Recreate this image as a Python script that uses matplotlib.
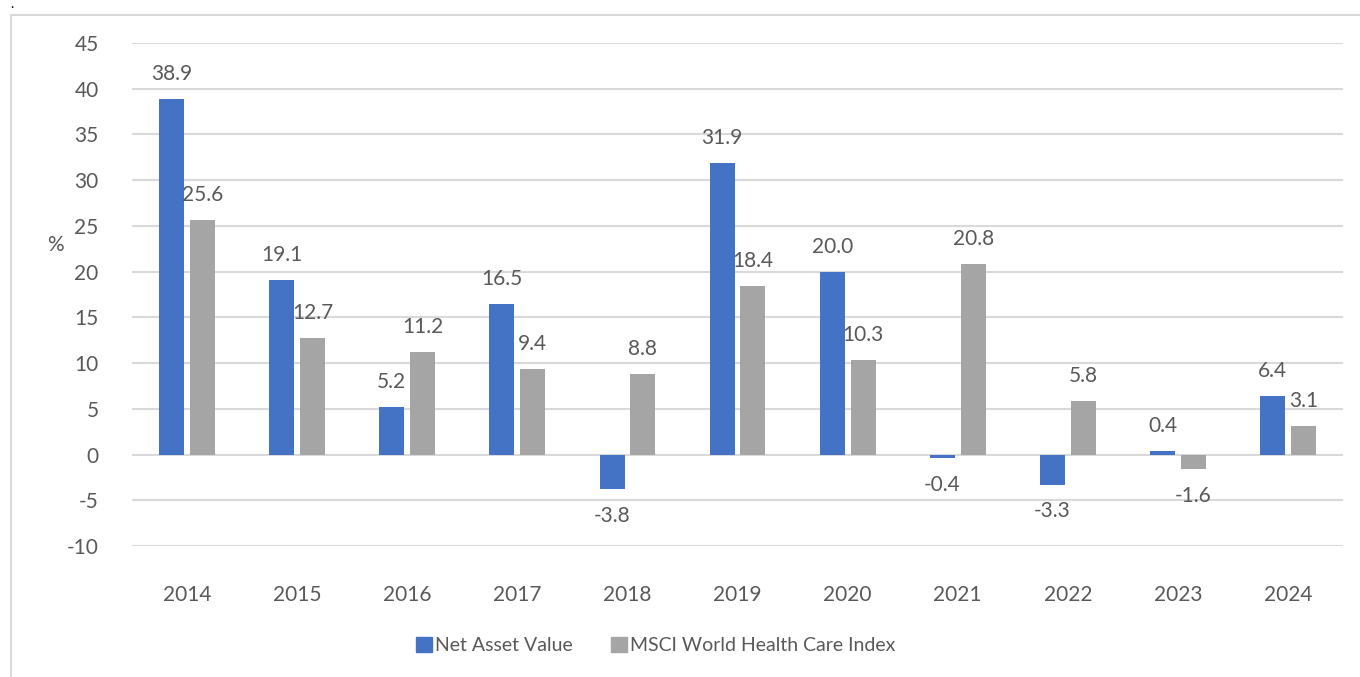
import matplotlib.pyplot as plt
import numpy as np
from matplotlib.lines import Line2D
from matplotlib.patches import Patch

# --- data ---
years = ["2014", "2015", "2016", "2017", "2018", "2019", "2020", "2021", "2022", "2023", "2024"]
nav = [38.9, 19.1, 5.2, 16.5, -3.8, 31.9, 20.0, -0.4, -3.3, 0.4, 6.4]
msci = [25.6, 12.7, 11.2, 9.4, 8.8, 18.4, 10.3, 20.8, 5.8, -1.6, 3.1]

blue = "#4472C4"
grey = "#A5A5A5"
text_col = "#595959"

plt.rcParams["font.family"] = ["Lato", "DejaVu Sans"]
plt.rcParams["axes.unicode_minus"] = False

fig = plt.figure(figsize=(13.6, 6.77), dpi=100)
ax = fig.add_axes([0.0971, 0.1935, 0.8904, 0.743])

x = np.arange(len(years))
w = 0.227
off = 0.14
b1 = ax.bar(x - off, nav, w, color=blue, zorder=3)
b2 = ax.bar(x + off, msci, w, color=grey, zorder=3)

# data labels above (or below) each bar
for bars, vals in ((b1, nav), (b2, msci)):
    for rect, v in zip(bars, vals):
        cx = rect.get_x() + rect.get_width() / 2
        dy = 18 if v >= 0 else -19
        ax.annotate(f"{v:.1f}", (cx, v), xytext=(0, dy), textcoords="offset points",
                    ha="center", va="center", fontsize=15, color=text_col, zorder=4)

ax.set_xlim(-0.5, len(years) - 0.5)
ax.set_ylim(-10, 45)
ax.set_yticks(range(-10, 50, 5))
ax.set_xticks(x)
ax.set_xticklabels(years)
ax.grid(axis="y", color="#D9D9D9", linewidth=1.5, zorder=0)
ax.tick_params(axis="both", length=0, labelsize=15, labelcolor=text_col)
ax.tick_params(axis="y", pad=24)
ax.tick_params(axis="x", pad=28)
for s in ax.spines.values():
    s.set_visible(False)

ax.text(-0.063, 0.598, "%", transform=ax.transAxes, fontsize=15, color=text_col,
        ha="center", va="center")

handles = [Patch(color=blue), Patch(color=grey)]
fig.legend(handles, ["Net Asset Value", "MSCI World Health Care Index"], loc="center",
           bbox_to_anchor=(0.482, 0.046), ncol=2, frameon=False, fontsize=14,
           labelcolor=text_col, handlelength=0.8, handleheight=0.8,
           handletextpad=0.15, columnspacing=2.0)

# outer chart frame (only top and left edges visible in the crop)
fig.add_artist(Line2D([10.5 / 1360, 10.5 / 1360], [0, 1 - 14.5 / 677], color="#D9D9D9", lw=1.5))
fig.add_artist(Line2D([10.5 / 1360, 1], [1 - 14.5 / 677, 1 - 14.5 / 677], color="#D9D9D9", lw=1.5))
fig.text(12 / 1360, 1 - 4 / 677, ".", fontsize=10, color="black", ha="center", va="center")

fig.savefig("out.png", dpi=100)
